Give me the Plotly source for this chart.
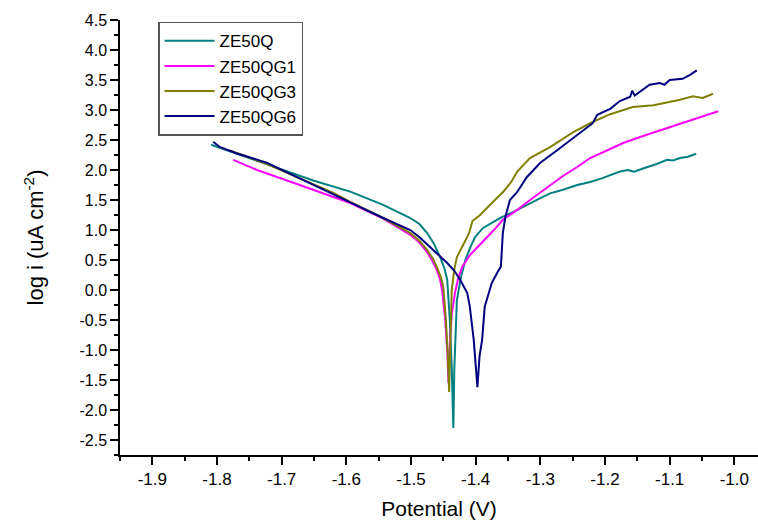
import plotly.graph_objects as go

# Tafel polarisation curves: potential (V) vs log current density
ze50q_E = [-1.809, -1.75, -1.70, -1.65, -1.594, -1.543, -1.501, -1.487, -1.475, -1.465,
           -1.455, -1.448, -1.444, -1.440, -1.437, -1.4345, -1.433, -1.431, -1.429, -1.423,
           -1.416, -1.408, -1.401, -1.389, -1.375, -1.362, -1.340, -1.321, -1.300, -1.285,
           -1.265, -1.243, -1.223, -1.205, -1.192, -1.178, -1.165, -1.155, -1.140, -1.120,
           -1.104, -1.095, -1.084, -1.072, -1.059]
ze50q_logi = [2.42, 2.20, 2.01, 1.82, 1.64, 1.42, 1.20, 1.10, 0.95, 0.78,
              0.55, 0.35, 0.17, -0.50, -1.30, -2.30, -1.30, -0.60, -0.17, 0.20,
              0.50, 0.72, 0.88, 1.03, 1.12, 1.20, 1.31, 1.42, 1.53, 1.61,
              1.67, 1.75, 1.80, 1.86, 1.91, 1.97, 2.00, 1.97, 2.03, 2.10,
              2.17, 2.16, 2.20, 2.22, 2.27]

ze50qg1_E = [-1.775, -1.738, -1.672, -1.620, -1.594, -1.543, -1.501, -1.487, -1.475, -1.466,
             -1.460, -1.455, -1.452, -1.447, -1.444, -1.442, -1.440, -1.437, -1.432, -1.427,
             -1.421, -1.409, -1.389, -1.370, -1.358, -1.335, -1.316, -1.300, -1.285, -1.265,
             -1.243, -1.223, -1.192, -1.172, -1.140, -1.104, -1.069, -1.045, -1.025]
ze50qg1_logi = [2.17, 2.00, 1.75, 1.55, 1.45, 1.19, 0.92, 0.79, 0.63, 0.47,
                0.33, 0.17, 0.00, -0.50, -1.00, -1.55, -0.90, -0.40, -0.05, 0.20,
                0.38, 0.58, 0.80, 1.02, 1.17, 1.34, 1.50, 1.63, 1.75, 1.90,
                2.05, 2.20, 2.35, 2.45, 2.57, 2.70, 2.83, 2.91, 2.98]

ze50qg3_E = [-1.781, -1.750, -1.723, -1.672, -1.620, -1.594, -1.543, -1.501, -1.487, -1.475,
             -1.466, -1.460, -1.454, -1.450, -1.446, -1.443, -1.441, -1.439, -1.437, -1.433,
             -1.429, -1.417, -1.410, -1.405, -1.398, -1.393, -1.375, -1.358, -1.345, -1.336,
             -1.316, -1.285, -1.249, -1.219, -1.192, -1.157, -1.125, -1.104, -1.084, -1.064,
             -1.049, -1.033]
ze50qg3_logi = [2.33, 2.20, 2.10, 1.86, 1.62, 1.47, 1.20, 0.95, 0.82, 0.67,
                0.52, 0.38, 0.22, 0.05, -0.50, -1.10, -1.70, -0.80, 0.00, 0.35,
                0.55, 0.80, 0.95, 1.15, 1.20, 1.25, 1.45, 1.63, 1.80, 1.97,
                2.20, 2.38, 2.63, 2.80, 2.93, 3.05, 3.08, 3.12, 3.17, 3.23,
                3.20, 3.27]

ze50qg6_E = [-1.806, -1.795, -1.770, -1.723, -1.672, -1.620, -1.594, -1.543, -1.501, -1.486,
             -1.471, -1.458, -1.444, -1.433, -1.424, -1.413, -1.409, -1.403, -1.400, -1.3973,
             -1.394, -1.390, -1.386, -1.380, -1.375, -1.366, -1.361, -1.358, -1.354, -1.347,
             -1.336, -1.321, -1.300, -1.274, -1.249, -1.219, -1.212, -1.192, -1.177, -1.161,
             -1.158, -1.154, -1.131, -1.115, -1.108, -1.100, -1.080, -1.069, -1.058]
ze50qg6_logi = [2.47, 2.38, 2.28, 2.12, 1.86, 1.60, 1.46, 1.20, 1.00, 0.87,
                0.72, 0.60, 0.45, 0.32, 0.17, -0.05, -0.28, -0.83, -1.30, -1.62,
                -1.10, -0.83, -0.28, -0.05, 0.12, 0.30, 0.39, 0.95, 1.22, 1.50,
                1.63, 1.88, 2.12, 2.33, 2.53, 2.78, 2.92, 3.02, 3.15, 3.22,
                3.32, 3.24, 3.42, 3.45, 3.42, 3.50, 3.52, 3.58, 3.66]

series_names = ["ZE50Q", "ZE50QG1", "ZE50QG3", "ZE50QG6"]
series_colors = ["#008080", "#FF00FF", "#808000", "#000080"]

x_tickvals = [-1.9, -1.8, -1.7, -1.6, -1.5, -1.4, -1.3, -1.2, -1.1, -1.0]
x_ticktext = ["-1.9", "-1.8", "-1.7", "-1.6", "-1.5", "-1.4", "-1.3", "-1.2", "-1.1", "-1.0"]
y_tickvals = [-2.5, -2.0, -1.5, -1.0, -0.5, 0.0, 0.5, 1.0, 1.5, 2.0, 2.5, 3.0, 3.5, 4.0, 4.5]
y_ticktext = ["-2.5", "-2.0", "-1.5", "-1.0", "-0.5", "0.0", "0.5", "1.0", "1.5",
              "2.0", "2.5", "3.0", "3.5", "4.0", "4.5"]

FONT = "Liberation Sans, Arial, sans-serif"

fig = go.Figure()
for name, color, xs, ys in zip(series_names, series_colors,
                               [ze50q_E, ze50qg1_E, ze50qg3_E, ze50qg6_E],
                               [ze50q_logi, ze50qg1_logi, ze50qg3_logi, ze50qg6_logi]):
    fig.add_trace(go.Scatter(x=xs, y=ys, mode="lines", name=name,
                             line=dict(color=color, width=2)))

axis_common = dict(
    showline=True, linecolor="black", linewidth=1.5,
    ticks="outside", ticklen=8, tickwidth=1.5, tickcolor="black",
    showgrid=False, zeroline=False, mirror=False,
)

fig.update_layout(
    width=758, height=523, autosize=False,
    margin=dict(l=120, r=0, t=20, b=68),
    plot_bgcolor="white", paper_bgcolor="white",
    font=dict(family=FONT, color="black"),
    xaxis=dict(range=[-1.95, -0.9634], tickmode="array",
               tickvals=x_tickvals, ticktext=x_ticktext,
               tickfont=dict(family=FONT, size=17, color="black"),
               minor=dict(tickmode="linear", tick0=-1.9, dtick=0.05,
                          ticks="outside", ticklen=4, tickwidth=1.5, tickcolor="black"),
               title=dict(text="Potential (V)", font=dict(family=FONT, size=21),
                          standoff=13),
               **axis_common),
    yaxis=dict(range=[-2.75, 4.5], tickmode="array",
               tickvals=y_tickvals, ticktext=y_ticktext,
               tickfont=dict(family=FONT, size=16, color="black"),
               minor=dict(tickmode="linear", tick0=0, dtick=0.25,
                          ticks="outside", ticklen=4, tickwidth=1.5, tickcolor="black"),
               title=dict(text="log i (uA cm<sup>-2</sup>)", font=dict(family=FONT, size=22),
                          standoff=30),
               **axis_common),
    legend=dict(x=0.0596, y=0.996, xanchor="left", yanchor="top",
                bgcolor="white", bordercolor="#555555", borderwidth=1.5,
                font=dict(family=FONT, size=17, color="black"),
                tracegroupgap=0, itemwidth=50),
    showlegend=True,
)

fig.write_html("out.html")
